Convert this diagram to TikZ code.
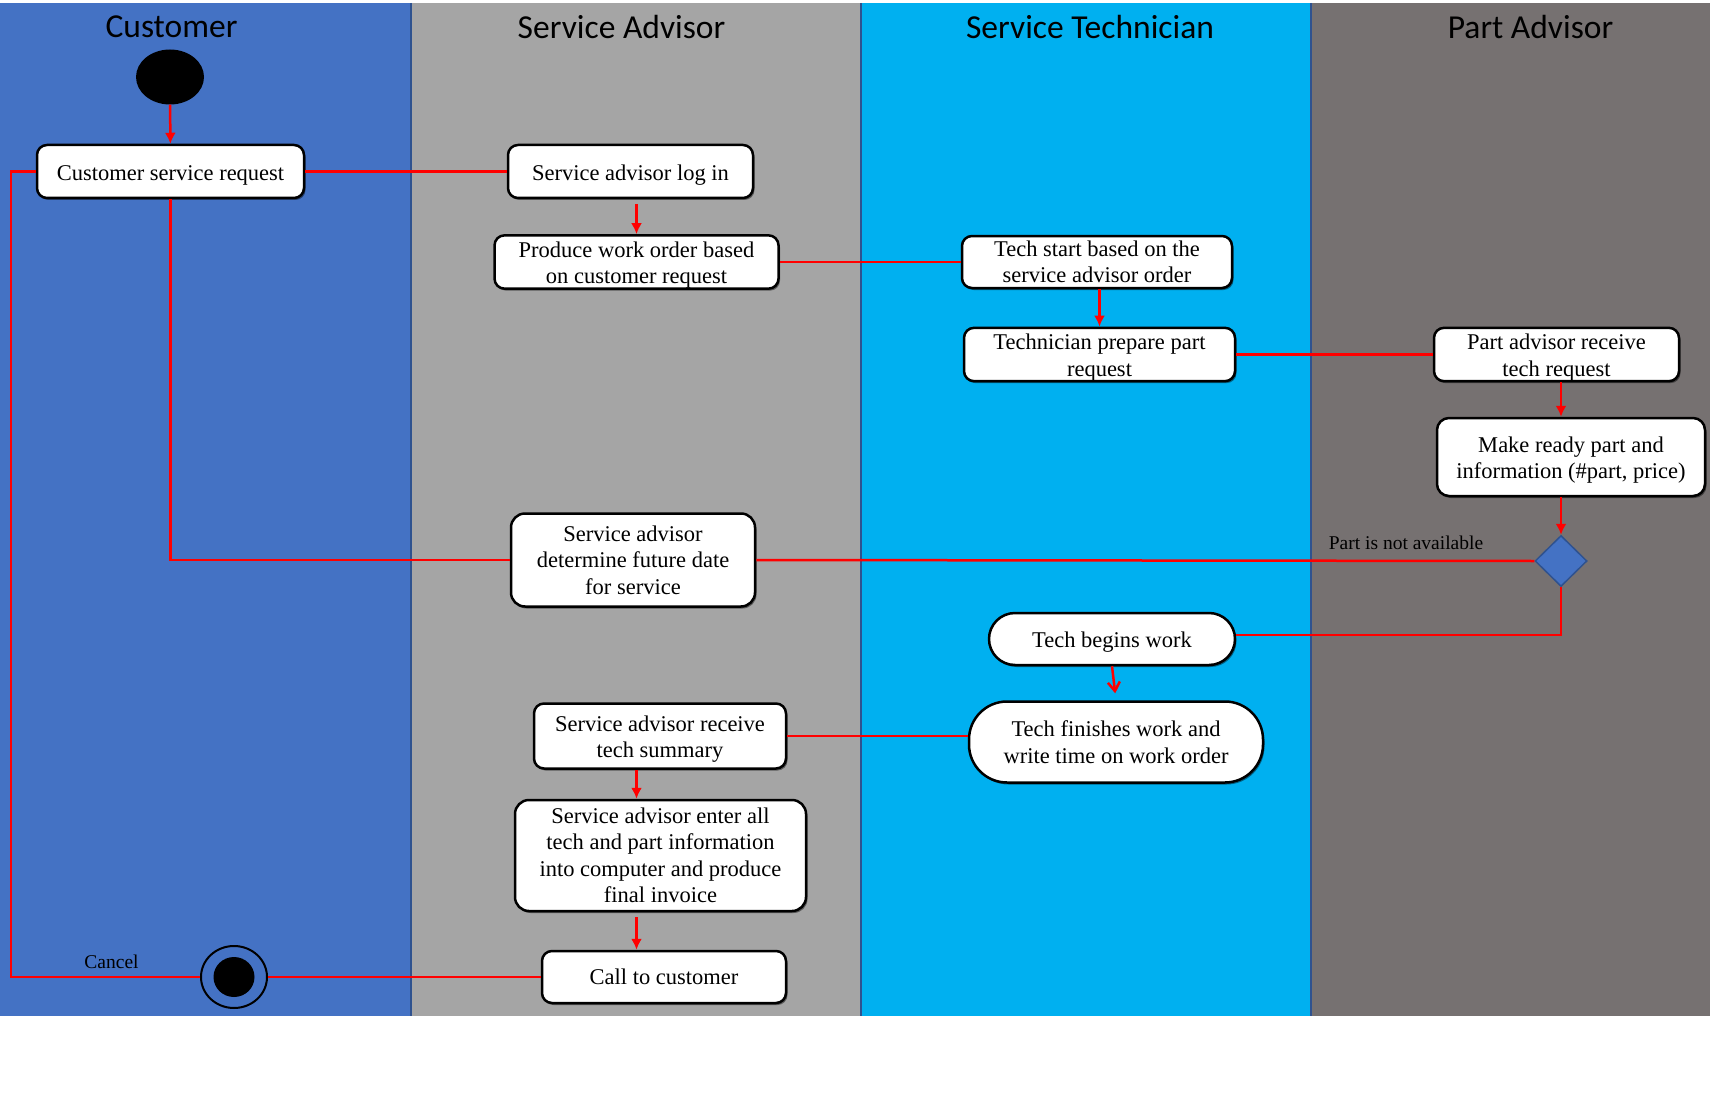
\documentclass[tikz,border=0pt]{standalone}
\usepackage{fontspec}
\setmainfont{Liberation Serif}
\newfontfamily\lanefont{Carlito}
\usepackage{tikz}
\usetikzlibrary{arrows.meta}
\usetikzlibrary{shapes.geometric}
\usetikzlibrary{shadows}
\tikzset{>={Latex[width=11pt,length=11pt]}}
\definecolor{custblue}{HTML}{4472C4}
\definecolor{advgray}{HTML}{A5A5A5}
\definecolor{techblue}{HTML}{00B0F0}
\definecolor{partgray}{HTML}{767171}
\definecolor{laneline}{HTML}{2F528F}
\definecolor{flowred}{HTML}{FF0000}
\newcommand{\lift}{\rule{0pt}{22pt}}
\tikzset{
  lanesep/.style={draw=laneline, line width=1.5pt},
  lanetitle/.style={font=\lanefont\fontsize{33.5}{40}\selectfont},
  act/.style={draw=black, fill=white, line width=2.5pt, rounded corners=10pt,
    align=center, inner sep=0pt, font=\fontsize{22.5}{26.5}\selectfont,
    drop shadow={shadow xshift=1.5pt, shadow yshift=-2pt, fill=black, opacity=0.45}},
  flow/.style={draw=flowred, line width=2.5pt},
  openarrow/.style={-{Straight Barb[width=12pt,length=9pt]}},
  guard/.style={font=\fontsize{19.5}{22}\selectfont},
}

\begin{document}
\begin{tikzpicture}[x=1pt, y=-1pt]

\useasboundingbox (0,0) rectangle (1713,1094);

%% swim lanes
\fill[custblue] (0,3) rectangle (411,1016);
\fill[advgray] (411,3) rectangle (861,1016);
\fill[techblue] (861,3) rectangle (1311,1016);
\fill[partgray] (1311,3) rectangle (1710,1016);
\draw[lanesep] (411,3) -- (411,1016);
\draw[lanesep] (861,3) -- (861,1016);
\draw[lanesep] (1311,3) -- (1311,1016);

\node[lanetitle] (tcust) at (171.5,27) {Customer};
\node[lanetitle] (tadv) at (621.5,27) {Service Advisor};
\node[lanetitle] (ttech) at (1090,27) {Service Technician};
\node[lanetitle] (tpart) at (1530.5,27) {Part Advisor};

%% customer
\node[ellipse, fill=black, inner sep=0pt, minimum width=68pt, minimum height=55pt]
  (start) at (170,77) {};
\node[act, minimum width=267pt, minimum height=53pt] (csr) at (170.5,171.5)
  {\lift Customer service request};
\node[ellipse, draw=black, fill=custblue, line width=2pt, inner sep=0pt,
  minimum width=66pt, minimum height=62pt] (end) at (234,977) {};
\node[ellipse, fill=black, inner sep=0pt, minimum width=41pt, minimum height=40pt]
  (endin) at (end) {};
\coordinate (cancelpt) at (11,977);
\node[guard] (cancel) at (111.5,962) {Cancel};

%% service advisor
\node[act, minimum width=245pt, minimum height=53pt] (salog) at (630.5,171.5)
  {\lift Service advisor log in};
\node[act, minimum width=284pt, minimum height=52pt] (produce) at (636.5,262)
  {\lift Produce work order based\\on customer request};
\node[act, rounded corners=14pt, minimum width=244pt, minimum height=93pt]
  (sadate) at (633,560) {Service advisor\\determine future date\\for service};
\node[act, minimum width=252pt, minimum height=65pt] (sarecv) at (660,736)
  {\lift Service advisor receive\\tech summary};
\node[act, rounded corners=14pt, minimum width=291pt, minimum height=111pt]
  (saenter) at (660.5,855.5)
  {Service advisor enter all\\tech and part information\\into computer and produce\\final invoice};
\node[act, minimum width=244pt, minimum height=52pt] (callc) at (664,977)
  {Call to customer};

%% service technician
\node[act, minimum width=270pt, minimum height=52pt] (tstart) at (1097,262)
  {Tech start based on the\\service advisor order};
\node[act, minimum width=271pt, minimum height=53pt] (tprep) at (1099.5,354.5)
  {\lift Technician prepare part\\request};
\node[act, rounded corners=26pt, minimum width=246pt, minimum height=52pt]
  (tbegin) at (1112,639) {\lift Tech begins work};
\node[act, rounded corners=38pt, minimum width=294pt, minimum height=81pt]
  (tfinish) at (1116,742) {Tech finishes work and\\write time on work order};

%% part advisor
\node[act, minimum width=245pt, minimum height=53pt] (parecv) at (1556.5,354.5)
  {\lift Part advisor receive\\tech request};
\node[act, rounded corners=12pt, minimum width=268pt, minimum height=78pt]
  (ready) at (1571,457) {\lift Make ready part and\\information (\#part, price)};
\node[diamond, draw=laneline, fill=custblue, line width=1.5pt, inner sep=0pt,
  minimum width=52pt, minimum height=51pt] (dec) at (1561,561) {};
\node[guard] (notavail) at (1406,543) {Part is not available};

%% flows
\draw[flow,->] (start) -- (csr);
\draw[flow] (csr) -- (salog);
\draw[flow,->] ([yshift=-5pt]salog.south -| produce.north) -- (produce.north);
\draw[flow] (produce.east) -- (produce.east -| tstart.west);
\draw[flow,->] (tstart.south -| tprep.north) -- (tprep.north);
\draw[flow] (tprep.east) -- (tprep.east -| parecv.west);
\draw[flow,->] (parecv.south -| dec.north) -- (ready.north -| dec.north);
\draw[flow,->] (ready.south -| dec.north) -- (dec.north);
\draw[flow] (dec.west) -- (sadate.east);
\draw[flow] (sadate.west) -| (csr.south);
\draw[flow] (dec.south) |- ([yshift=4pt]tbegin.east);
\draw[flow,openarrow,shorten >=7pt] (tbegin.south) -- (tfinish.north);
\draw[flow] (sarecv.east) -- (sarecv.east -| tfinish.west);
\draw[flow,->] (sarecv.south -| produce.south) -- (saenter.north -| produce.south);
\draw[flow,->] ([yshift=-5pt]saenter.south -| produce.south) -- (callc.north -| produce.south);
\draw[flow] (callc.west) -- (end.east);
\draw[flow] (end.west) -- (cancelpt) |- (csr.west);

\end{tikzpicture}
\end{document}
